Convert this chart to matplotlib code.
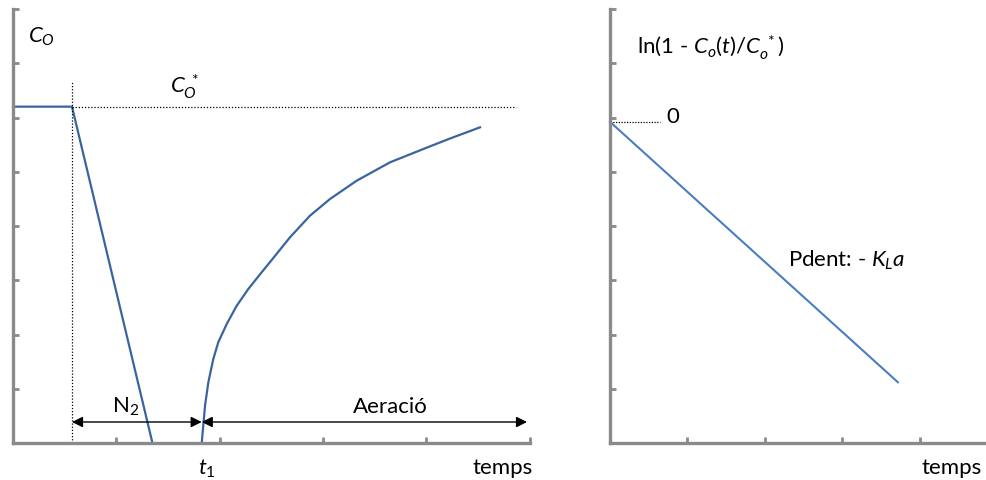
import matplotlib
matplotlib.use("Agg")
import matplotlib.pyplot as plt

plt.rcParams['font.family'] = ['Lato', 'DejaVu Sans']
plt.rcParams['mathtext.fontset'] = 'custom'
plt.rcParams['mathtext.rm'] = 'Lato'
plt.rcParams['mathtext.it'] = 'Lato:italic'

# left panel: dissolved oxygen vs time
t_n2 = [0.0, 0.571, 1.35]          # plateau, then nitrogen purge
c_n2 = [6.20, 6.20, 0.0]
t_aer = [1.827, 1.859, 1.891, 1.939, 1.987, 2.069, 2.166, 2.278, 2.407,
         2.504, 2.682, 2.875, 3.069, 3.327, 3.650, 3.972, 4.231, 4.521]
c_aer = [0.0, 0.688, 1.119, 1.548, 1.856, 2.194, 2.531, 2.839, 3.146,
         3.373, 3.793, 4.190, 4.498, 4.835, 5.174, 5.419, 5.613, 5.819]
c_sat = 6.20
t_start = 0.571
t_1 = 1.827
t_end = 4.976

# right panel: linearised plot
t_lin = [0.0, 3.715]
ln_lin = [5.92, 1.12]

gray = '#8a8a8a'
col_left = '#3a64a0'
col_right = '#4a7ec0'
fs = 16

fig = plt.figure(figsize=(9.87, 4.81), dpi=100)
W, H = 987, 481


def make_ax(left_px, right_px, top_px, bottom_px):
    ax = fig.add_axes([left_px / W, (H - bottom_px) / H,
                       (right_px - left_px) / W, (bottom_px - top_px) / H])
    for s in ['top', 'right']:
        ax.spines[s].set_visible(False)
    for s in ['left', 'bottom']:
        ax.spines[s].set_color(gray)
        ax.spines[s].set_linewidth(2.4)
    ax.tick_params(direction='in', length=4, width=2, color=gray,
                   labelleft=False, labelbottom=False)
    ax.set_ylim(0, 8)
    ax.set_yticks(range(0, 9))
    return ax


# ---- left chart ----
ax1 = make_ax(13, 529.5, 10, 444)
ax1.set_xlim(0, 5)
ax1.set_xticks(range(0, 6))

ax1.plot(t_n2, c_n2, color=col_left, lw=1.6, clip_on=False)
ax1.plot(t_aer, c_aer, color=col_left, lw=1.6, clip_on=False,
         solid_joinstyle='round')
ax1.plot([t_start, 4.87], [c_sat, c_sat], color='black', lw=0.9, ls=(0, (1, 1.5)))
ax1.plot([t_start, t_start], [0, 6.67], color='black', lw=0.9, ls=(0, (1, 1.5)))

arr = dict(arrowstyle='<|-|>', color='black', lw=1.0, mutation_scale=16,
           shrinkA=0, shrinkB=0)
ax1.annotate('', xy=(t_1, 0.387), xytext=(t_start, 0.387), arrowprops=arr)
ax1.annotate('', xy=(t_end, 0.387), xytext=(t_1, 0.387), arrowprops=arr,
             annotation_clip=False)

ax1.text(0.28, 7.50, r'$C_O$', fontsize=fs, ha='center', va='center')
ax1.text(1.665, 6.58, r'$C_O^{\ *}$', fontsize=fs, ha='center', va='center')
ax1.text(1.094, 0.68, r'N$_2$', fontsize=fs, ha='center', va='center')
ax1.text(3.65, 0.68, 'Aeració', fontsize=fs, ha='center', va='center')
ax1.text(1.88, -0.46, r'$t_1$', fontsize=fs, ha='center', va='center')
ax1.text(4.74, -0.45, 'temps', fontsize=fs, ha='center', va='center')

# ---- right chart ----
ax2 = make_ax(610, 987, 10, 444)
ax2.set_xlim(0, 377 / 77.5)
ax2.set_xticks(range(0, 5))

ax2.plot(t_lin, ln_lin, color=col_right, lw=1.5, clip_on=False)
ax2.plot([0, 0.645], [ln_lin[0], ln_lin[0]], color='black', lw=0.9, ls=(0, (1, 1.2)))
ax2.text(0.81, 6.03, '0', fontsize=fs, ha='center', va='center')
ax2.text(0.35, 7.30, r'ln(1 - $C_o(t)/C_o^{\ *}$)', fontsize=fs, ha='left', va='center')
ax2.text(2.30, 3.39, r'Pdent: - $K_La$', fontsize=fs, ha='left', va='center')
ax2.text(4.41, -0.45, 'temps', fontsize=fs, ha='center', va='center')

fig.savefig('out.png', dpi=100)
